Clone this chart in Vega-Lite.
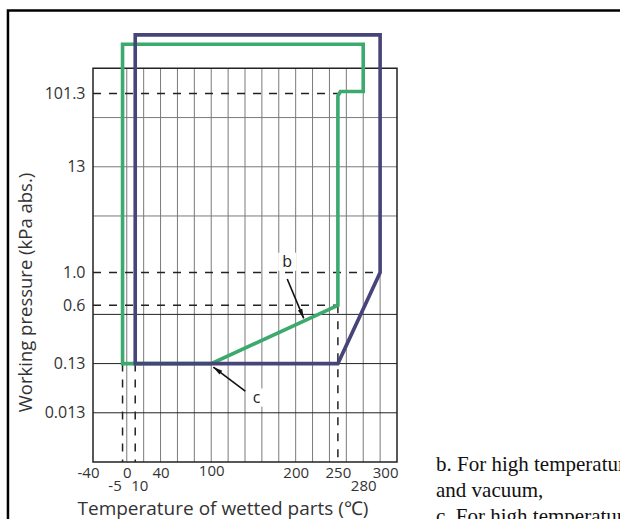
{
  "$schema": "https://vega.github.io/schema/vega-lite/v6.json",
  "width": 304,
  "height": 433,
  "autosize": {"type": "none"},
  "padding": {"left": 93, "top": 29, "right": 223, "bottom": 57},
  "background": "white",
  "config": {
    "view": {"stroke": null},
    "font": "Open Sans",
    "axis": {"grid": false, "ticks": false, "domain": false, "labelOverlap": false, "labelFlush": false, "labelBound": false}
  },
  "datasets": {
    "frame": [{"t": -140.7, "t2": 800, "level": 9.177, "level2": -3}],
    "box": [{"t": -40, "t2": 320, "level": 0, "level2": 8}],
    "vgrid": [
      {"t": 0, "level": 0, "level2": 8}, {"t": 20, "level": 0, "level2": 8}, {"t": 40, "level": 0, "level2": 8}, {"t": 60, "level": 0, "level2": 8},
      {"t": 80, "level": 0, "level2": 8}, {"t": 100, "level": 0, "level2": 8}, {"t": 120, "level": 0, "level2": 8}, {"t": 140, "level": 0, "level2": 8},
      {"t": 160, "level": 0, "level2": 8}, {"t": 180, "level": 0, "level2": 8}, {"t": 200, "level": 0, "level2": 8}, {"t": 220, "level": 0, "level2": 8},
      {"t": 240, "level": 0, "level2": 8}, {"t": 260, "level": 0, "level2": 8}, {"t": 280, "level": 0, "level2": 8}, {"t": 300, "level": 0, "level2": 8}
    ],
    "hgridLight": [{"t": -40, "t2": 320, "level": 5}, {"t": -40, "t2": 320, "level": 6}, {"t": -40, "t2": 320, "level": 7}],
    "hgridDark": [{"t": -40, "t2": 320, "level": 1}, {"t": -40, "t2": 320, "level": 2}, {"t": -40, "t2": 320, "level": 3}],
    "dashed": [
      {"t": -40, "t2": 250, "level": 7.49, "level2": 7.49},
      {"t": -40, "t2": 300, "level": 3.85, "level2": 3.85},
      {"t": -40, "t2": 250, "level": 3.185, "level2": 3.185},
      {"t": -5, "t2": -5, "level": 2, "level2": 0},
      {"t": 10, "t2": 10, "level": 2, "level2": 0},
      {"t": 250, "t2": 250, "level": 3.185, "level2": 0}
    ],
    "green": [
      {"i": 0, "t": -5, "level": 2},
      {"i": 1, "t": -5, "level": 8.49},
      {"i": 2, "t": 280, "level": 8.49},
      {"i": 3, "t": 280, "level": 7.53},
      {"i": 4, "t": 253, "level": 7.53},
      {"i": 5, "t": 250, "level": 7.44},
      {"i": 6, "t": 250, "level": 3.185},
      {"i": 7, "t": 100, "level": 2},
      {"i": 8, "t": -5, "level": 2}
    ],
    "purple": [
      {"i": 0, "t": 10, "level": 2},
      {"i": 1, "t": 10, "level": 8.68},
      {"i": 2, "t": 300, "level": 8.68},
      {"i": 3, "t": 300, "level": 3.85},
      {"i": 4, "t": 250, "level": 2},
      {"i": 5, "t": 10, "level": 2}
    ],
    "labels": [
      {"label": "b", "t": 190, "level": 4.07},
      {"label": "c", "t": 153.6, "level": 1.31}
    ],
    "arrows": [
      {"label": "b", "t": 190, "level": 3.72, "t2": 209.5, "level2": 2.92},
      {"label": "c", "t": 140.3, "level": 1.44, "t2": 102.5, "level2": 1.93}
    ],
    "note": [{"t": 366.2, "level": -0.18}]
  },
  "encoding": {
    "x": {
      "field": "t",
      "type": "quantitative",
      "scale": {"domain": [-40, 320], "nice": false, "zero": false},
      "axis": {
        "title": "Temperature of wetted parts (℃)",
        "values": [-40, -5, 0, 10, 40, 100, 200, 250, 280, 300],
        "labelExpr": "'' + datum.value",
        "grid": false,
        "ticks": false,
        "domain": false,
        "labelFont": "Open Sans",
        "labelFontSize": 15,
        "labelColor": "#333",
        "labelBaseline": "top",
        "labelOverlap": false,
        "labelFlush": false,
        "labelPadding": {"condition": [{"test": "datum.value == -5 || datum.value == 10 || datum.value == 280", "value": 16}, {"test": "datum.value == 100", "value": 1}], "value": 3},
        "labelOffset": {"condition": [{"test": "datum.value == -40", "value": -5}, {"test": "datum.value == -5", "value": -8}, {"test": "datum.value == 10", "value": 4}, {"test": "datum.value == 300", "value": 5}], "value": 0},
        "titleFont": "Open Sans",
        "titleFontSize": 19,
        "titleFontWeight": "normal",
        "titleColor": "#333",
        "titleX": -16,
        "titleY": 46,
        "titleAlign": "left",
        "titleBaseline": "middle"
      }
    },
    "y": {
      "field": "level",
      "type": "quantitative",
      "scale": {"domain": [0, 8.8], "nice": false, "zero": false},
      "axis": {
        "title": "Working pressure (kPa abs.)",
        "values": [1, 2, 3.185, 3.85, 6, 7.49],
        "labelExpr": "datum.value == 7.49 ? '101.3' : datum.value == 6 ? '13' : datum.value == 3.85 ? '1.0' : datum.value == 3.185 ? '0.6' : datum.value == 2 ? '0.13' : '0.013'",
        "grid": false,
        "ticks": false,
        "domain": false,
        "labelFont": "Open Sans",
        "labelFontSize": 16,
        "labelColor": "#333",
        "labelPadding": 8,
        "labelOverlap": false,
        "titleFont": "Open Sans",
        "titleFontSize": 18.5,
        "titleFontWeight": "normal",
        "titleColor": "#333",
        "titleX": -68,
        "titleY": 263,
        "titleAlign": "center",
        "titleBaseline": "middle"
      }
    }
  },
  "layer": [
    {
      "data": {"name": "vgrid"},
      "mark": {"type": "rule", "color": "#7a7a7a", "strokeWidth": 1},
      "encoding": {"y2": {"field": "level2"}}
    },
    {
      "data": {"name": "hgridLight"},
      "mark": {"type": "rule", "color": "#7a7a7a", "strokeWidth": 1},
      "encoding": {"x2": {"field": "t2"}}
    },
    {
      "data": {"name": "hgridDark"},
      "mark": {"type": "rule", "color": "#222", "strokeWidth": 1},
      "encoding": {"x2": {"field": "t2"}}
    },
    {
      "data": {"name": "frame"},
      "mark": {"type": "rect", "filled": false, "stroke": "#000", "strokeWidth": 2.5},
      "encoding": {"x2": {"field": "t2"}, "y2": {"field": "level2"}}
    },
    {
      "data": {"name": "box"},
      "mark": {"type": "rect", "filled": false, "stroke": "#222", "strokeWidth": 1.5},
      "encoding": {"x2": {"field": "t2"}, "y2": {"field": "level2"}}
    },
    {
      "data": {"name": "dashed"},
      "mark": {"type": "rule", "color": "#222", "strokeWidth": 1.5, "strokeDash": [8, 8]},
      "encoding": {"x2": {"field": "t2"}, "y2": {"field": "level2"}}
    },
    {
      "data": {"name": "labels"},
      "mark": {"type": "point", "shape": "square", "filled": true, "color": "white", "opacity": 1, "size": 330, "strokeWidth": 0},
      "encoding": {}
    },
    {
      "data": {"name": "green"},
      "mark": {"type": "line", "color": "#3caa6e", "strokeWidth": 3.6, "strokeJoin": "miter", "strokeCap": "square"},
      "encoding": {"order": {"field": "i", "type": "quantitative"}}
    },
    {
      "data": {"name": "purple"},
      "mark": {"type": "line", "color": "#464478", "strokeWidth": 3.6, "strokeJoin": "miter", "strokeCap": "square"},
      "encoding": {"order": {"field": "i", "type": "quantitative"}}
    },
    {
      "data": {"name": "labels"},
      "mark": {"type": "text", "font": "Open Sans", "fontSize": 16, "color": "#222", "align": "center", "baseline": "middle"},
      "encoding": {"text": {"field": "label", "type": "nominal"}}
    },
    {
      "data": {"name": "arrows"},
      "mark": {"type": "rule", "color": "#111", "strokeWidth": 1.6},
      "encoding": {"x2": {"field": "t2"}, "y2": {"field": "level2"}}
    },
    {
      "data": {"name": "arrows"},
      "transform": [{"filter": "datum.label == 'b'"}],
      "mark": {"type": "point", "shape": "M0,0L-0.45,1.8L0.45,1.8Z", "filled": true, "color": "#111", "opacity": 1, "size": 110, "angle": 157.5, "strokeWidth": 0},
      "encoding": {"x": {"field": "t2"}, "y": {"field": "level2"}}
    },
    {
      "data": {"name": "arrows"},
      "transform": [{"filter": "datum.label == 'c'"}],
      "mark": {"type": "point", "shape": "M0,0L-0.45,1.8L0.45,1.8Z", "filled": true, "color": "#111", "opacity": 1, "size": 110, "angle": 307, "strokeWidth": 0},
      "encoding": {"x": {"field": "t2"}, "y": {"field": "level2"}}
    },
    {
      "data": {"name": "note"},
      "mark": {"type": "text", "font": "Liberation Serif", "fontSize": 21, "color": "#111", "align": "left", "baseline": "alphabetic", "lineHeight": 26, "text": ["b. For high temperature", "and vacuum,", "c. For high temperature"]},
      "encoding": {}
    }
  ]
}
